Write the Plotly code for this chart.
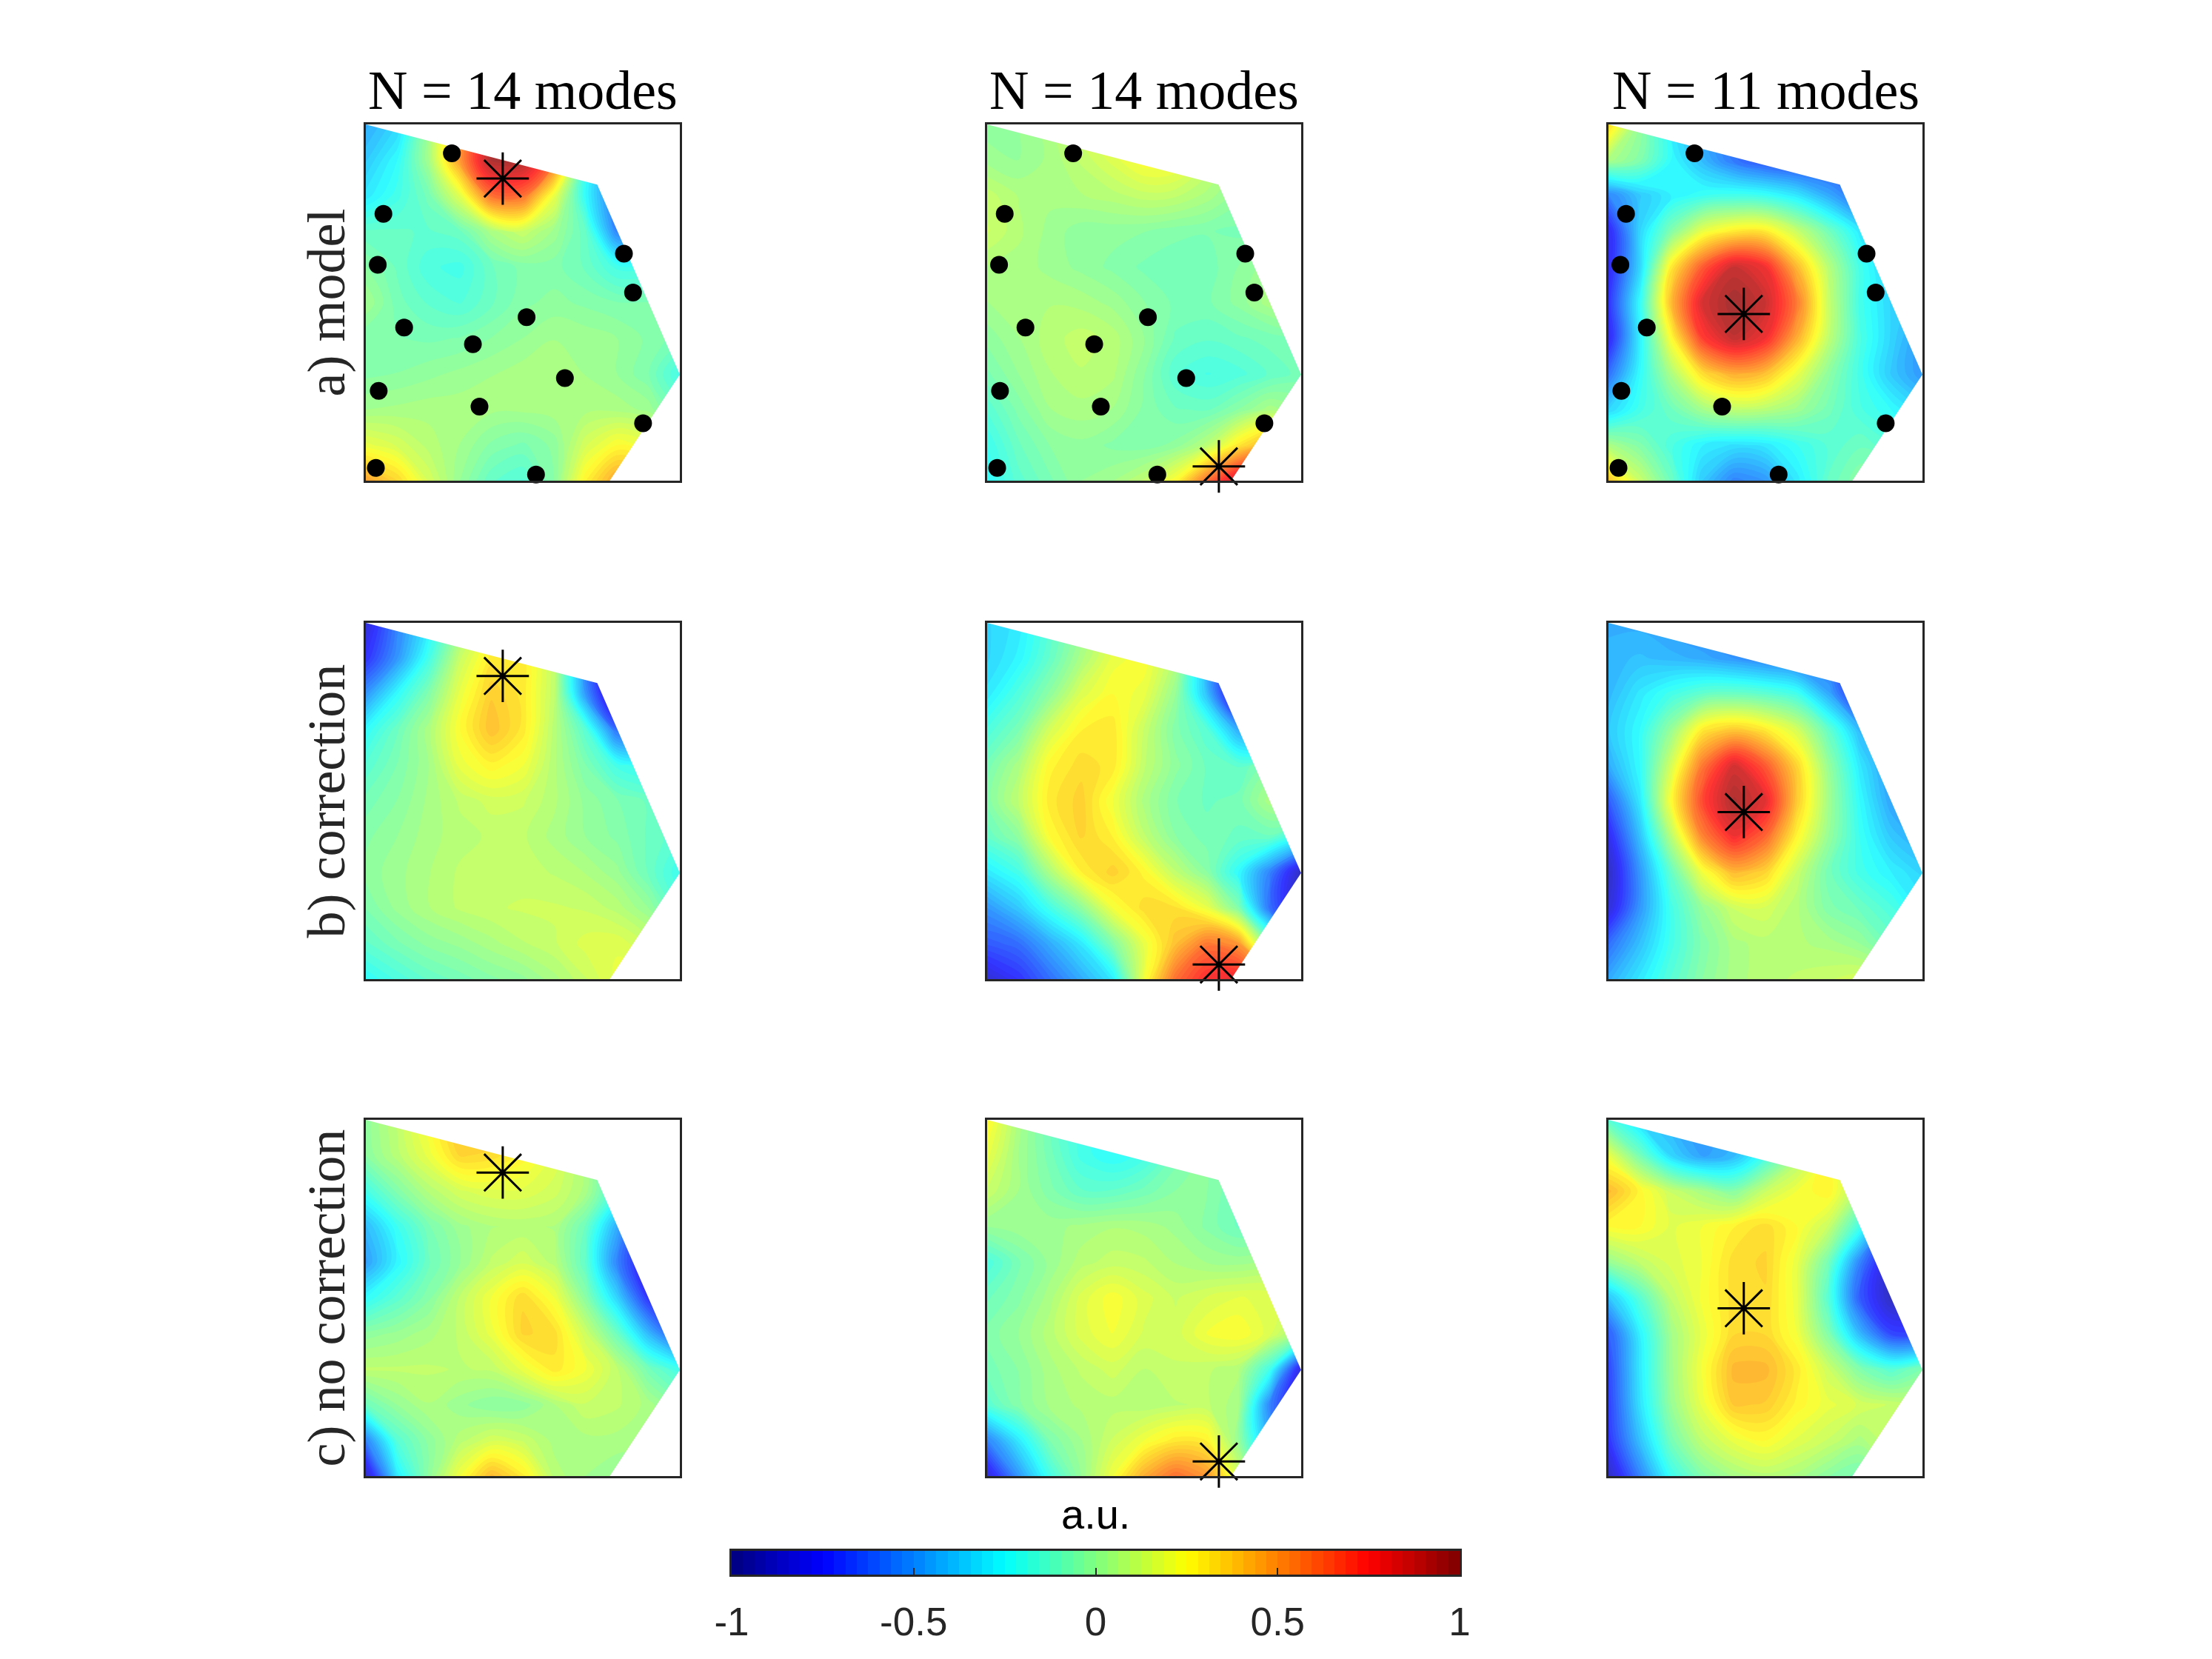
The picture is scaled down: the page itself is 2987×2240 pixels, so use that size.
import numpy as np
import plotly.graph_objects as go

GRID_X = [0.0, 0.1, 0.2, 0.3, 0.4, 0.5, 0.6, 0.7, 0.8, 0.9, 1.0]
GRID_Y_TOP_DOWN = [1.0, 0.9, 0.8, 0.7, 0.6, 0.5, 0.4, 0.3, 0.2, 0.1, 0.0]

COLUMN_TITLES = ["N = 14 modes", "N = 14 modes", "N = 11 modes"]
ROW_LABELS = ["a) model", "b) correction", "c) no correction"]
COLORBAR_TICKS = [-1, -0.5, 0, 0.5, 1]
COLORBAR_TICKTEXT = ["-1", "-0.5", "0", "0.5", "1"]

# outside-of-boundary regions
MASK_UPPER_X = [0.0, 1.0, 1.0, 0.737, 0.0]
MASK_UPPER_Y = [1.0, 1.0, 0.298, 0.831, 1.0]
MASK_LOWER_X = [1.0, 1.0, 0.777, 1.0]
MASK_LOWER_Y = [0.298, 0.0, 0.0, 0.298]

SENSOR_X = [0.274, 0.056, 0.038, 0.122, 0.341, 0.512, 0.822, 0.851, 0.634, 0.362, 0.041, 0.883, 0.032, 0.542]
SENSOR_Y = [0.919, 0.749, 0.606, 0.430, 0.383, 0.459, 0.637, 0.528, 0.288, 0.208, 0.252, 0.161, 0.036, 0.017]
SENSOR_X_11 = [0.274, 0.056, 0.038, 0.122, 0.822, 0.851, 0.362, 0.041, 0.883, 0.032, 0.542]
SENSOR_Y_11 = [0.919, 0.749, 0.606, 0.430, 0.637, 0.528, 0.208, 0.252, 0.161, 0.036, 0.017]

STAR_X = [[0.436, 0.738, 0.431], [0.436, 0.738, 0.431], [0.436, 0.738, 0.431]]
STAR_Y = [[0.848, 0.040, 0.468], [0.851, 0.041, 0.469], [0.852, 0.041, 0.471]]

A1 = [[-.45,-.35,0,.4,.8,.9,.5,-.3,-.6,-.6,-.4],
      [-.38,-.25,.03,.5,.95,.95,.6,-.2,-.6,-.6,-.4],
      [-.3,-.2,-.08,.18,.6,.6,.2,-.25,-.6,-.6,-.4],
      [-.12,-.12,-.13,-.1,.05,.12,.02,-.12,-.55,-.6,-.4],
      [-.03,-.1,-.18,-.2,-.1,-.05,-.05,-.1,-.2,-.2,-.2],
      [.03,-.08,-.13,-.16,-.1,-.04,-.02,-.04,-.06,-.06,-.06],
      [-.06,-.06,-.07,-.06,-.03,0,.03,.02,0,-.04,-.08],
      [-.04,-.03,-.01,.01,.03,.05,.05,.03,0,-.06,-.2],
      [.03,.04,.05,.05,.04,.04,.05,.05,.05,.02,-.1],
      [.2,.15,.08,.03,-.04,-.07,-.02,.15,.25,.2,.1],
      [.48,.35,.15,0,-.12,-.16,-.03,.28,.47,.4,.2]]
A2 = [[-.02,0,.05,.15,.25,.28,.2,.1,0,-.03,-.05],
      [.02,0,.04,.1,.17,.25,.24,.13,.02,-.03,-.05],
      [.11,.06,.04,.06,.08,.11,.1,.05,-.02,-.07,-.07],
      [.13,.07,.02,-.02,-.02,-.03,-.05,-.06,-.07,-.06,-.05],
      [.06,.05,.02,-.01,-.04,-.07,-.09,-.08,-.03,.02,.03],
      [.03,.05,.06,.05,.02,-.03,-.07,-.07,-.02,.05,.09],
      [-.02,.03,.08,.11,.08,0,-.1,-.12,-.1,-.08,-.05],
      [-.07,0,.06,.09,.07,-.03,-.15,-.19,-.17,-.12,-.08],
      [-.15,-.05,.03,.05,.03,-.04,-.09,-.1,-.03,.05,0],
      [-.22,-.1,-.03,-.01,-.04,-.05,-.02,.08,.3,.45,.4],
      [-.25,-.14,-.07,0,.03,.1,.25,.6,.9,.9,.8]]
A3 = [[.35,0,-.3,-.45,-.6,-.7,-.75,-.7,-.6,-.5,-.4],
      [.05,-.05,-.25,-.42,-.58,-.68,-.72,-.7,-.6,-.5,-.4],
      [-.55,-.38,-.28,-.22,-.2,-.22,-.3,-.45,-.6,-.5,-.4],
      [-.8,-.35,-.05,.2,.3,.3,.12,-.08,-.3,-.42,-.45],
      [-.8,-.35,.3,.65,.88,.78,.42,.08,-.2,-.38,-.42],
      [-.75,-.25,.42,.85,.97,.88,.58,.12,-.2,-.35,-.42],
      [-.8,-.28,.25,.72,.9,.78,.45,.1,-.18,-.35,-.5],
      [-.6,-.25,.05,.33,.45,.4,.2,-.02,-.2,-.38,-.5],
      [-.35,-.2,-.1,.03,.1,.08,.02,-.08,-.18,-.25,-.35],
      [.05,-.05,-.18,-.28,-.32,-.3,-.22,-.15,-.1,-.15,-.25],
      [.4,.12,-.1,-.38,-.55,-.5,-.3,-.12,-.03,0,0]]
B1 = [[-.85,-.55,-.3,0,.2,.2,.05,-.3,-.6,-.6,-.5],
      [-.75,-.5,-.2,.12,.3,.3,.1,-.5,-1,-.6,-.5],
      [-.5,-.25,-.05,.2,.37,.3,.1,-.5,-1,-.6,-.5],
      [-.25,-.1,.05,.25,.4,.3,.08,-.15,-.6,-.6,-.5],
      [-.15,-.06,.03,.2,.27,.22,.07,-.06,-.2,-.25,-.3],
      [-.08,-.03,.04,.1,.14,.13,.07,-.01,-.06,-.1,-.15],
      [-.04,0,.05,.08,.1,.1,.05,0,-.04,-.1,-.15],
      [-.02,.02,.06,.1,.12,.11,.09,.06,.01,-.1,-.22],
      [-.06,.01,.06,.1,.12,.13,.13,.12,.08,0,-.15],
      [-.13,-.07,-.02,.01,.05,.09,.12,.17,.18,.12,0],
      [-.25,-.18,-.12,-.08,-.04,-.01,.05,.12,.2,.2,.1]]
B2 = [[-.35,-.3,-.15,0,.15,.2,.05,-.3,-.6,-.5,-.5],
      [-.35,-.27,-.12,.05,.2,.24,.07,-.4,-.9,-.5,-.5],
      [-.3,-.17,-.02,.17,.25,.2,0,-.4,-.95,-.5,-.5],
      [-.18,-.07,.15,.28,.3,.12,-.05,-.15,-.45,-.6,-.4],
      [-.08,.05,.27,.33,.3,.1,-.02,-.1,-.13,-.04,-.05],
      [-.05,.1,.3,.36,.22,.05,-.06,-.1,-.08,.05,.1],
      [-.12,-.02,.25,.35,.28,.1,-.03,-.08,-.1,-.1,-.25],
      [-.3,-.2,.05,.28,.36,.27,.1,-.03,-.25,-.55,-.9],
      [-.5,-.38,-.2,-.02,.22,.33,.32,.2,-.05,-.6,-.9],
      [-.65,-.6,-.45,-.3,-.05,.2,.4,.58,.5,-.05,-.6],
      [-.85,-.75,-.6,-.45,-.3,.22,.6,.77,.8,.5,0]]
B3 = [[-.45,-.45,-.5,-.55,-.6,-.62,-.65,-.7,-.75,-.7,-.6],
      [-.42,-.4,-.42,-.45,-.5,-.55,-.6,-.62,-.8,-.7,-.6],
      [-.42,-.3,-.2,-.12,-.1,-.13,-.2,-.45,-.8,-.7,-.6],
      [-.38,-.25,0,.3,.38,.3,.15,-.12,-.42,-.6,-.6],
      [-.45,-.25,.15,.58,.85,.65,.35,0,-.3,-.52,-.6],
      [-.65,-.3,.25,.7,.95,.82,.38,.03,-.25,-.47,-.55],
      [-.8,-.4,.08,.55,.78,.62,.27,0,-.22,-.38,-.47],
      [-.9,-.5,-.12,.22,.42,.35,.12,-.08,-.2,-.28,-.35],
      [-.85,-.5,-.2,0,.13,.15,.07,-.05,-.1,-.18,-.3],
      [-.6,-.4,-.2,-.05,.05,.08,.07,.05,0,-.1,-.2],
      [-.45,-.3,-.15,-.03,.05,.08,.1,.12,.15,.1,0]]
C1 = [[-.02,.1,.25,.4,.4,.3,.2,.05,-.1,-.3,-.3],
      [-.03,.08,.2,.35,.33,.27,.18,.05,-.2,-.3,-.3],
      [-.2,-.05,.07,.15,.18,.18,.14,.05,-.2,-.7,-.7],
      [-.42,-.22,-.07,.02,.06,.07,.06,-.1,-.45,-.8,-.8],
      [-.48,-.27,-.1,0,.1,.15,.08,-.13,-.55,-.88,-.85],
      [-.25,-.14,-.04,.1,.22,.34,.22,-.03,-.35,-.75,-.85],
      [-.02,.01,.05,.1,.2,.35,.33,.13,-.1,-.42,-.7],
      [.1,.1,.1,.09,.1,.2,.3,.22,.1,-.08,-.2],
      [-.1,0,.06,.01,-.03,-.02,.06,.12,.1,.05,-.05],
      [-.55,-.15,-.02,.08,.15,.12,.05,.05,.05,.04,0],
      [-.9,-.3,-.02,.22,.42,.3,.08,.03,0,0,0]]
C2 = [[.27,.05,-.1,-.2,-.25,-.2,-.1,-.05,-.1,-.1,-.1],
      [.2,.03,-.08,-.2,-.25,-.2,-.08,-.03,-.08,-.1,-.1],
      [.12,.03,-.05,-.12,-.12,-.08,-.03,-.03,-.1,-.1,-.1],
      [0,.02,.02,.04,.06,.05,.02,-.04,-.1,-.08,-.05],
      [-.18,-.07,.01,.08,.11,.1,.06,.03,.02,.04,.05],
      [-.1,-.04,.05,.17,.24,.17,.12,.16,.19,.18,.1],
      [-.05,0,.08,.17,.22,.15,.14,.22,.25,.17,0],
      [-.08,-.03,.05,.1,.14,.09,.12,.1,.07,-.2,-.85],
      [-.15,-.04,.04,.07,.08,.07,.09,.1,.04,-.55,-.9],
      [-.55,-.3,-.06,.03,.13,.22,.3,.28,0,-.45,-.8],
      [-.85,-.5,-.2,0,.22,.45,.6,.5,.15,-.2,-.5]]
C3 = [[-.15,-.35,-.45,-.5,-.45,-.25,.1,.3,.2,0,0],
      [.2,-.08,-.35,-.48,-.42,-.2,.05,.25,.15,0,0],
      [.42,.27,.12,.04,-.04,.12,.22,.28,.05,-.2,-.3],
      [.25,.25,.18,.22,.28,.33,.25,.12,-.2,-.6,-.6],
      [0,.1,.17,.22,.33,.35,.2,-.08,-.55,-.9,-.9],
      [-.4,-.15,.1,.23,.33,.34,.2,-.15,-.65,-.9,-.9],
      [-.65,-.28,.03,.2,.34,.34,.22,-.05,-.42,-.7,-.7],
      [-.7,-.3,.02,.23,.42,.42,.3,.13,-.05,-.15,-.05],
      [-.72,-.32,0,.2,.38,.37,.27,.2,.15,.12,.1],
      [-.75,-.4,-.08,.1,.2,.25,.18,.12,.05,.12,.1],
      [-.9,-.55,-.22,-.05,.04,.08,.05,-.03,-.08,.05,.1]]

PANELS = [[A1, A2, A3], [B1, B2, B3], [C1, C2, C3]]

# ---- layout in pixels of the 2987x2240 page
W, H = 2987, 2240
COL_L = [494, 1333, 2172]
COL_W = 424
ROW_T = [168, 841, 1512]
ROW_H = 481
CB_L, CB_R, CB_T, CB_B = 988, 1971, 2094, 2126
FRAME = "#262626"


def jet(i, n=64):
    t = (i + 0.5) / n
    r = np.clip(min(4 * t - 1.5, -4 * t + 4.5), 0, 1)
    g = np.clip(min(4 * t - 0.5, -4 * t + 3.5), 0, 1)
    b = np.clip(min(4 * t + 0.5, -4 * t + 2.5), 0, 1)
    return "rgb(%d,%d,%d)" % (r * 255, g * 255, b * 255)


scale = []
for i in range(64):
    scale.append([i / 64, jet(i)])
    scale.append([(i + 1) / 64, jet(i)])

fig = go.Figure()
annotations = []
layout = {}
y_asc = GRID_Y_TOP_DOWN[::-1]
n = 0
for r in range(3):
    for c in range(3):
        n += 1
        xa, ya = ("x%d" % n, "y%d" % n) if n > 1 else ("x", "y")
        fig.add_trace(go.Contour(
            x=GRID_X, y=y_asc, z=PANELS[r][c][::-1], colorscale=scale, zmin=-1, zmax=1, zauto=False,
            showscale=False, opacity=0.8, autocontour=False,
            contours=dict(start=-1, end=1, size=2 / 64, coloring="fill", showlines=False),
            line=dict(width=0), hoverinfo="skip", xaxis=xa, yaxis=ya))
        for mx, my in ((MASK_UPPER_X, MASK_UPPER_Y), (MASK_LOWER_X, MASK_LOWER_Y)):
            fig.add_trace(go.Scatter(x=mx, y=my, mode="lines", fill="toself", fillcolor="white",
                                     line=dict(width=0, color="white"), hoverinfo="skip",
                                     showlegend=False, xaxis=xa, yaxis=ya))
        if r == 0:
            sx, sy = (SENSOR_X_11, SENSOR_Y_11) if c == 2 else (SENSOR_X, SENSOR_Y)
            fig.add_trace(go.Scatter(x=sx, y=sy, mode="markers", cliponaxis=False,
                                     marker=dict(color="black", size=24, line=dict(width=0)),
                                     showlegend=False, xaxis=xa, yaxis=ya))
        fig.add_trace(go.Scatter(x=[STAR_X[r][c]], y=[STAR_Y[r][c]], mode="markers", cliponaxis=False,
                                 marker=dict(symbol="asterisk-open", size=59, color="black",
                                             line=dict(width=3, color="black")),
                                 showlegend=False, xaxis=xa, yaxis=ya))
        ax = dict(range=[0, 1], showline=True, mirror=True, linewidth=3, linecolor=FRAME,
                  showgrid=False, zeroline=False, ticks="", showticklabels=False)
        suffix = "" if n == 1 else str(n)
        layout["xaxis" + suffix] = dict(ax, domain=[COL_L[c] / W, (COL_L[c] + COL_W) / W], anchor=ya)
        layout["yaxis" + suffix] = dict(ax, domain=[1 - (ROW_T[r] + ROW_H) / H, 1 - ROW_T[r] / H], anchor=xa)

# colour bar as its own axis
levels = [[-1 + (i + 0.5) * 2 / 64 for i in range(64)]]
fig.add_trace(go.Heatmap(x=levels[0], y=[0], z=levels, colorscale=scale, zmin=-1, zmax=1, zauto=False,
                         showscale=False, hoverinfo="skip", xaxis="x10", yaxis="y10"))
layout["xaxis10"] = dict(domain=[CB_L / W, CB_R / W], anchor="y10", range=[-1, 1], showline=True, mirror=True,
                         linewidth=3, linecolor=FRAME, showgrid=False, zeroline=False, ticks="inside",
                         ticklen=9, tickwidth=2, tickcolor=FRAME, tickmode="array", tickvals=COLORBAR_TICKS,
                         ticktext=COLORBAR_TICKTEXT, ticklabelstandoff=15,
                         tickfont=dict(family="Liberation Sans", size=53, color=FRAME))
layout["yaxis10"] = dict(domain=[1 - CB_B / H, 1 - CB_T / H], anchor="x10", range=[-0.5, 0.5], showline=True,
                         mirror=True, linewidth=3, linecolor=FRAME, showgrid=False, zeroline=False,
                         ticks="", showticklabels=False)

for c in range(3):
    annotations.append(dict(text=COLUMN_TITLES[c], xref="paper", yref="paper", showarrow=False,
                            x=(COL_L[c] + COL_W / 2) / W, y=1 - 122 / H, xanchor="center", yanchor="middle",
                            font=dict(family="Liberation Serif", size=74, color="black")))
for r in range(3):
    annotations.append(dict(text=ROW_LABELS[r], xref="paper", yref="paper", showarrow=False, textangle=-90,
                            x=440 / W, y=1 - (ROW_T[r] + ROW_H / 2) / H, xanchor="center", yanchor="middle",
                            font=dict(family="Liberation Serif", size=72, color=FRAME)))
annotations.append(dict(text="a.u.", xref="paper", yref="paper", showarrow=False,
                        x=(CB_L + CB_R) / 2 / W, y=1 - 2044 / H, xanchor="center", yanchor="middle",
                        font=dict(family="Liberation Sans", size=56, color="black")))

fig.update_layout(width=W, height=H, margin=dict(l=0, r=0, t=0, b=0, autoexpand=False), paper_bgcolor="white",
                  plot_bgcolor="white", showlegend=False, annotations=annotations, **layout)
fig.write_html("out.html", config={"displayModeBar": False},
               post_script="document.body.style.margin='0';document.body.style.overflow='hidden';")
